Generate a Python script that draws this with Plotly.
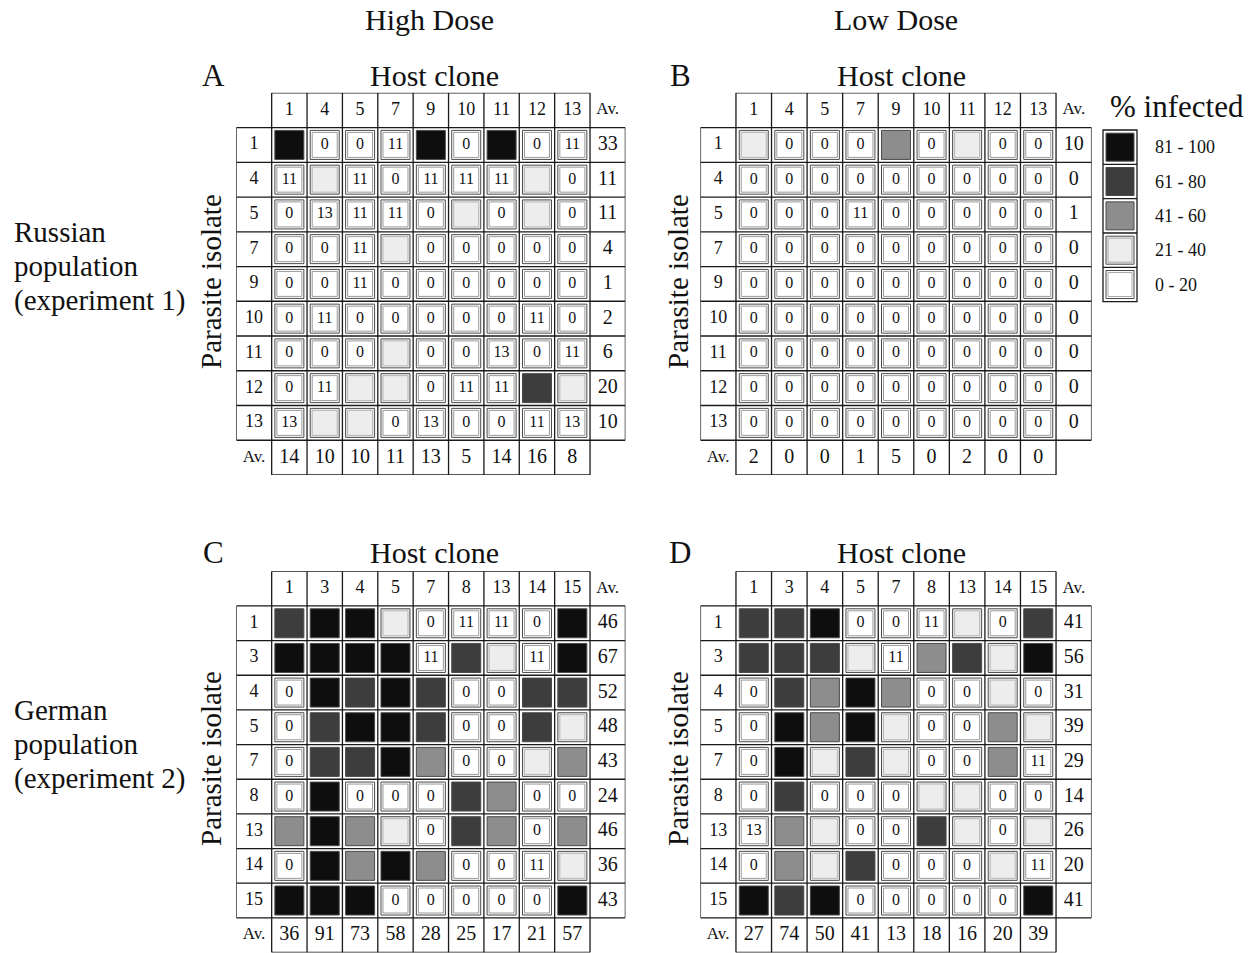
import plotly.graph_objects as go

W, H = 1258, 953
SERIF = "Liberation Serif, Times New Roman, Times, serif"

# ---------------- data ----------------
VH, HI, MD, LO = "81-100", "61-80", "41-60", "21-40"
legend_labels = ["81 - 100", "61 - 80", "41 - 60", "21 - 40", "0 - 20"]
legend_keys = [VH, HI, MD, LO, "0-20"]
class_colors = {VH: "#0e0e0e", HI: "#3d3d3d", MD: "#8d8d8d", LO: "#ededed", "0-20": "#ffffff"}

hosts_ru = ["1", "4", "5", "7", "9", "10", "11", "12", "13"]
isolates_ru = ["1", "4", "5", "7", "9", "10", "11", "12", "13"]
hosts_de = ["1", "3", "4", "5", "7", "8", "13", "14", "15"]
isolates_de = ["1", "3", "4", "5", "7", "8", "13", "14", "15"]

# numbers = % infected (0-20 class, shown); strings = shaded class without number
grid_A = [
    [VH, 0, 0, 11, VH, 0, VH, 0, 11],
    [11, LO, 11, 0, 11, 11, 11, LO, 0],
    [0, 13, 11, 11, 0, LO, 0, LO, 0],
    [0, 0, 11, LO, 0, 0, 0, 0, 0],
    [0, 0, 11, 0, 0, 0, 0, 0, 0],
    [0, 11, 0, 0, 0, 0, 0, 11, 0],
    [0, 0, 0, LO, 0, 0, 13, 0, 11],
    [0, 11, LO, LO, 0, 11, 11, HI, LO],
    [13, LO, LO, 0, 13, 0, 0, 11, 13],
]
row_av_A = [33, 11, 11, 4, 1, 2, 6, 20, 10]
col_av_A = [14, 10, 10, 11, 13, 5, 14, 16, 8]

grid_B = [
    [LO, 0, 0, 0, MD, 0, LO, 0, 0],
    [0, 0, 0, 0, 0, 0, 0, 0, 0],
    [0, 0, 0, 11, 0, 0, 0, 0, 0],
    [0, 0, 0, 0, 0, 0, 0, 0, 0],
    [0, 0, 0, 0, 0, 0, 0, 0, 0],
    [0, 0, 0, 0, 0, 0, 0, 0, 0],
    [0, 0, 0, 0, 0, 0, 0, 0, 0],
    [0, 0, 0, 0, 0, 0, 0, 0, 0],
    [0, 0, 0, 0, 0, 0, 0, 0, 0],
]
row_av_B = [10, 0, 1, 0, 0, 0, 0, 0, 0]
col_av_B = [2, 0, 0, 1, 5, 0, 2, 0, 0]

grid_C = [
    [HI, VH, VH, LO, 0, 11, 11, 0, VH],
    [VH, VH, VH, VH, 11, HI, LO, 11, VH],
    [0, VH, HI, VH, HI, 0, 0, HI, HI],
    [0, HI, VH, VH, HI, 0, 0, HI, LO],
    [0, HI, HI, VH, MD, 0, 0, LO, MD],
    [0, VH, 0, 0, 0, HI, MD, 0, 0],
    [MD, VH, MD, LO, 0, HI, MD, 0, MD],
    [0, VH, MD, VH, MD, 0, 0, 11, LO],
    [VH, VH, VH, 0, 0, 0, 0, 0, VH],
]
row_av_C = [46, 67, 52, 48, 43, 24, 46, 36, 43]
col_av_C = [36, 91, 73, 58, 28, 25, 17, 21, 57]

grid_D = [
    [HI, HI, VH, 0, 0, 11, LO, 0, HI],
    [HI, HI, HI, LO, 11, MD, HI, LO, VH],
    [0, HI, MD, VH, MD, 0, 0, LO, 0],
    [0, VH, MD, VH, LO, 0, 0, MD, LO],
    [0, VH, LO, HI, LO, 0, 0, MD, 11],
    [0, HI, 0, 0, 0, LO, LO, 0, 0],
    [13, MD, LO, 0, 0, HI, LO, 0, LO],
    [0, MD, LO, HI, 0, 0, 0, LO, 11],
    [VH, HI, VH, 0, 0, 0, 0, 0, VH],
]
row_av_D = [41, 56, 31, 39, 29, 14, 26, 20, 41]
col_av_D = [27, 74, 50, 41, 13, 18, 16, 20, 39]

# ---------------- layout of panels (pixel boxes) ----------------
panels = [
    dict(letter="A", grid=grid_A, hosts=hosts_ru, isolates=isolates_ru, row_av=row_av_A, col_av=col_av_A,
         box=(236.3, 625.4, 92.8, 475.0)),
    dict(letter="B", grid=grid_B, hosts=hosts_ru, isolates=isolates_ru, row_av=row_av_B, col_av=col_av_B,
         box=(700.4, 1091.6, 92.8, 475.0)),
    dict(letter="C", grid=grid_C, hosts=hosts_de, isolates=isolates_de, row_av=row_av_C, col_av=col_av_C,
         box=(236.3, 625.4, 571.3, 952.5)),
    dict(letter="D", grid=grid_D, hosts=hosts_de, isolates=isolates_de, row_av=row_av_D, col_av=col_av_D,
         box=(700.4, 1091.6, 571.3, 952.5)),
]

fig = go.Figure()
layout = dict(width=W, height=H, margin=dict(l=0, r=0, t=0, b=0),
              paper_bgcolor="white", plot_bgcolor="rgba(0,0,0,0)", showlegend=False)
shapes = []
annotations = []
LINE = dict(color="#1a1a1a", width=1.3)
CELL_LINE = "#4a4a4a"
TXT = "#111"


def axkey(prefix, k):
    return prefix + ("axis" if k == 1 else "axis%d" % k)


for k, p in enumerate(panels, start=1):
    l, r, t, b = p["box"]
    xr, yr = ("x" if k == 1 else "x%d" % k), ("y" if k == 1 else "y%d" % k)
    layout[axkey("x", k)] = dict(domain=[l / W, r / W], range=[-1.5, 9.5], visible=False,
                                 anchor=yr, fixedrange=True)
    layout[axkey("y", k)] = dict(domain=[1 - b / H, 1 - t / H], range=[9.5, -1.5], visible=False,
                                 anchor=xr, fixedrange=True)
    grid = p["grid"]
    n = len(grid)
    m = len(grid[0])

    def seg(x0, y0, x1, y1):
        shapes.append(dict(type="line", xref=xr, yref=yr, x0=x0, y0=y0, x1=x1, y1=y1, line=LINE))

    # header row
    seg(-0.5, -1.5, m - 0.5, -1.5)
    for j in range(m + 1):
        seg(j - 0.5, -1.5, j - 0.5, -0.5)
    # body
    for i in range(n + 1):
        seg(-1.5, i - 0.5, m + 0.5, i - 0.5)
    seg(-1.5, -0.5, -1.5, n - 0.5)
    seg(m + 0.5, -0.5, m + 0.5, n - 0.5)
    for j in range(m + 1):
        seg(j - 0.5, -0.5, j - 0.5, n + 0.5)
    # average row
    seg(-0.5, n + 0.5, m - 0.5, n + 0.5)

    # cells: white (numbered) cells
    wx, wy, wt = [], [], []
    for i, row in enumerate(grid):
        for j, v in enumerate(row):
            if not isinstance(v, str):
                wx.append(j); wy.append(i); wt.append(str(v))
    fig.add_trace(go.Scatter(x=wx, y=wy, mode="markers", xaxis=xr, yaxis=yr, hoverinfo="skip",
                             marker=dict(symbol="square", size=29, color="white",
                                         line=dict(color=CELL_LINE, width=1))))
    fig.add_trace(go.Scatter(x=wx, y=wy, mode="markers+text", xaxis=xr, yaxis=yr, hoverinfo="skip",
                             text=wt, textposition="middle center",
                             textfont=dict(family=SERIF, size=16, color=TXT),
                             marker=dict(symbol="square-open", size=25, color="#9a9a9a",
                                         line=dict(width=1))))
    # shaded cells
    for key in [LO, MD, HI, VH]:
        sx, sy = [], []
        for i, row in enumerate(grid):
            for j, v in enumerate(row):
                if v == key:
                    sx.append(j); sy.append(i)
        if not sx:
            continue
        fig.add_trace(go.Scatter(x=sx, y=sy, mode="markers", xaxis=xr, yaxis=yr, hoverinfo="skip",
                                 marker=dict(symbol="square", size=29, color=class_colors[key],
                                             line=dict(color=CELL_LINE, width=1))))
        if key == LO:
            fig.add_trace(go.Scatter(x=sx, y=sy, mode="markers", xaxis=xr, yaxis=yr, hoverinfo="skip",
                                     marker=dict(symbol="square-open", size=25, color="#b5b5b5",
                                                 line=dict(width=1))))

    # header labels, row labels, averages
    fig.add_trace(go.Scatter(x=list(range(m)), y=[-1] * m, mode="text", text=p["hosts"], xaxis=xr, yaxis=yr,
                             hoverinfo="skip", textfont=dict(family=SERIF, size=18, color=TXT)))
    fig.add_trace(go.Scatter(x=[-1] * n, y=list(range(n)), mode="text", text=p["isolates"], xaxis=xr, yaxis=yr,
                             hoverinfo="skip", textfont=dict(family=SERIF, size=18, color=TXT)))
    fig.add_trace(go.Scatter(x=[m, -1], y=[-1, n], mode="text", text=["Av.", "Av."], xaxis=xr, yaxis=yr,
                             hoverinfo="skip", textfont=dict(family=SERIF, size=17, color=TXT)))
    fig.add_trace(go.Scatter(x=[m] * n, y=list(range(n)), mode="text", text=[str(v) for v in p["row_av"]],
                             xaxis=xr, yaxis=yr, hoverinfo="skip",
                             textfont=dict(family=SERIF, size=20, color=TXT)))
    fig.add_trace(go.Scatter(x=list(range(m)), y=[n] * m, mode="text", text=[str(v) for v in p["col_av"]],
                             xaxis=xr, yaxis=yr, hoverinfo="skip",
                             textfont=dict(family=SERIF, size=20, color=TXT)))

# ---------------- overlay axis in pixels for titles & legend ----------------
layout["xaxis5"] = dict(domain=[0, 1], range=[0, W], visible=False, anchor="y5", fixedrange=True)
layout["yaxis5"] = dict(domain=[0, 1], range=[H, 0], visible=False, anchor="x5", fixedrange=True)


def txt(x, y, s, size, xanchor="center", angle=0):
    annotations.append(dict(xref="x5", yref="y5", x=x, y=y, text=s, showarrow=False, xanchor=xanchor,
                            yanchor="middle", textangle=angle,
                            font=dict(family=SERIF, size=size, color=TXT)))


txt(429, 19, "High Dose", 30)
txt(896, 19, "Low Dose", 30)
for letter, lx, ty, hx, px in [("A", 213.5, 75, 434, 211), ("B", 680, 75, 901, 678),
                               ("C", 213.5, 552, 434, 211), ("D", 680, 552, 901, 678)]:
    txt(lx, ty, letter, 31)
    txt(hx, ty, "Host clone", 30)
    txt(px, ty + 207, "Parasite isolate", 29, angle=-90)

for s, y in [("Russian", 232), ("population", 266), ("(experiment 1)", 300)]:
    txt(12, y, s, 29, xanchor="left")
for s, y in [("German", 710), ("population", 744), ("(experiment 2)", 778)]:
    txt(12, y, s, 29, xanchor="left")

txt(1177, 106, "% infected", 31)

# legend
lx0, lx1, ly0, ly1 = 1103, 1137, 130, 301.7
step = (ly1 - ly0) / len(legend_keys)
shapes.append(dict(type="rect", xref="x5", yref="y5", x0=lx0, x1=lx1, y0=ly0, y1=ly1, line=LINE))
for i in range(1, len(legend_keys)):
    shapes.append(dict(type="line", xref="x5", yref="y5", x0=lx0, x1=lx1, y0=ly0 + i * step,
                       y1=ly0 + i * step, line=LINE))
cx = (lx0 + lx1) / 2
cys = [ly0 + (i + 0.5) * step for i in range(len(legend_keys))]
fig.add_trace(go.Scatter(x=[cx] * len(cys), y=cys, mode="markers", xaxis="x5", yaxis="y5", hoverinfo="skip",
                         marker=dict(symbol="square", size=28,
                                     color=[class_colors[k] for k in legend_keys],
                                     line=dict(color=CELL_LINE, width=1))))
fig.add_trace(go.Scatter(x=[cx, cx], y=cys[3:], mode="markers", xaxis="x5", yaxis="y5", hoverinfo="skip",
                         marker=dict(symbol="square-open", size=24, color="#a8a8a8", line=dict(width=1))))
for s, y in zip(legend_labels, cys):
    txt(1153, y, s, 18, xanchor="left")

layout["shapes"] = shapes
layout["annotations"] = annotations
fig.update_layout(**layout)
fig.write_html("out.html", config={"displayModeBar": False},
               post_script="document.body.style.margin='0px';document.body.style.overflow='hidden';")
